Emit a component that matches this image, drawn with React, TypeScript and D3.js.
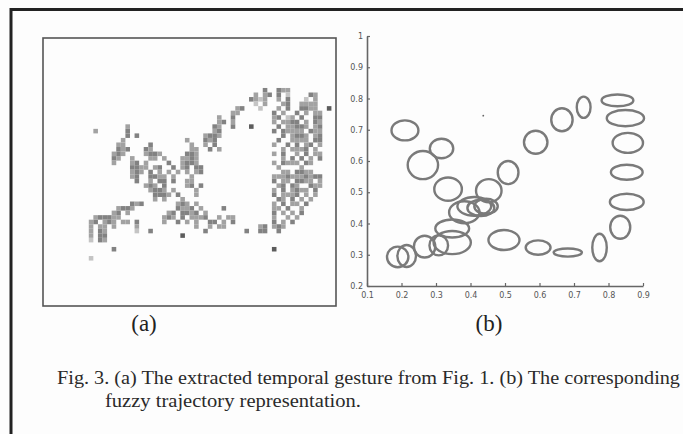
import { useEffect, useRef } from "react";
import * as d3 from "d3";

// panel (a): extracted gesture, as runs of cells [row, startCol, pattern]
// pattern chars: "." empty, 1..4 gray level
const gridCols = 64;
const gridRows = 59;
const gestureRuns: [number, number, string][] = [
  [11, 48, "3"], [11, 51, "322"],
  [12, 46, "2.23"], [12, 51, "3.1"], [12, 58, "32"],
  [13, 45, "3212"], [13, 51, "2.3"], [13, 57, "1.2"],
  [14, 46, "1.2"], [14, 52, "23"], [14, 56, "2222"],
  [15, 42, "23"], [15, 47, "1"], [15, 51, "2.3"], [15, 56, "3322"], [15, 62, "4"],
  [16, 41, "22"], [16, 50, "3.2..3.2.22"],
  [17, 38, "2"], [17, 41, "3"], [17, 50, "23.12.3..33"],
  [18, 38, "23"], [18, 41, "2"], [18, 50, "2.2233.2.32"],
  [19, 18, "2"], [19, 37, "32"], [19, 41, "3"], [19, 45, "4"], [19, 50, ".3.22332.23"],
  [20, 11, "2"], [20, 18, "3"], [20, 37, "23"], [20, 50, "3.32222.322"],
  [21, 18, "3.3"], [21, 35, "2332"], [21, 50, "..3.2332.23"],
  [22, 17, "2"], [22, 31, "2"], [22, 35, "323"], [22, 50, ".3..2222.33"],
  [23, 16, "22"], [23, 23, "3"], [23, 32, "2"], [23, 35, "2.3"], [23, 50, "2..3.3.23.2"],
  [24, 16, "323"], [24, 22, "32"], [24, 32, "22"], [24, 36, "3.2"], [24, 50, "..2.2223.2."],
  [25, 15, "232"], [25, 22, "233"], [25, 25, "2"], [25, 31, "332"], [25, 50, "2.3..2.3.22"],
  [26, 15, "32"], [26, 19, "2"], [26, 23, "22"], [26, 26, "2"], [26, 30, "2232"], [26, 50, "..2.3.3.2.3"],
  [27, 15, "2"], [27, 19, "23"], [27, 22, "2"], [27, 27, "3"], [27, 30, "2332"], [27, 50, "2.3222.32.."],
  [28, 19, "3322"], [28, 24, "23"], [28, 28, "3"], [28, 30, "23.33"], [28, 51, "2....2"],
  [29, 19, "232"], [29, 23, "3.2"], [29, 27, "2.2"], [29, 31, "2.23"], [29, 50, "..22.3322.."],
  [30, 19, "23"], [30, 23, "3322"], [30, 28, "2"], [30, 32, "2"], [30, 50, "22232223233"],
  [31, 20, "3"], [31, 23, "2.33"], [31, 28, "3"], [31, 31, "22"], [31, 50, "3.22.3322.2"],
  [32, 22, "232"], [32, 26, "3"], [32, 31, "23.3"], [32, 50, ".23.32..322"],
  [33, 23, "2332"], [33, 28, "2"], [33, 33, "2"], [33, 50, "2.3.2322.3."],
  [34, 24, "3332"], [34, 29, "3"], [34, 33, "2"], [34, 50, "3.2223.2.2."],
  [35, 24, "2"], [35, 26, "2"], [35, 30, "2"], [35, 50, ".32.3.2.2.."],
  [36, 19, "323"], [36, 29, "232"], [36, 33, "2"], [36, 50, "2.3.22.3"],
  [37, 16, "2332"], [37, 29, "3223.2"], [37, 39, "3"], [37, 50, "22.3..2"],
  [38, 15, "23.2"], [38, 27, "23.3323.2"], [38, 50, "3.2.2.3"],
  [39, 11, "23332"], [39, 16, "2"], [39, 26, "232.3.2223..2.22"], [39, 50, "2..2.2"],
  [40, 10, "23.232"], [40, 17, "22.3"], [40, 26, "2..3.2.2..33.2.3"], [40, 50, "3.2.3"],
  [41, 10, "2.22.2"], [41, 20, "2"], [41, 33, "2"], [41, 36, "2.22"], [41, 47, "23"], [41, 50, "232"],
  [42, 10, "2.32"], [42, 20, "1"], [42, 23, "3"], [42, 35, "3"], [42, 44, "3"], [42, 47, "33"], [42, 51, "3"],
  [43, 10, "2.33"], [43, 30, "4"],
  [44, 10, "1.32"],
  [46, 15, "3"], [46, 50, "4"],
  [48, 10, "1"],
];
const grayLevels = ["#ffffff", "#c4c4c4", "#a2a2a2", "#828282", "#5c5c5c"];

// panel (b): fuzzy trajectory ellipses [cx, cy, rx, ry] in data units
const ellipseCx = [0.21, 0.316, 0.262, 0.335, 0.453, 0.509, 0.589, 0.665, 0.728, 0.826, 0.849, 0.856, 0.853, 0.853, 0.834, 0.774, 0.682, 0.596, 0.497, 0.347, 0.347, 0.267, 0.308, 0.189, 0.215, 0.382, 0.411, 0.43, 0.445];
const ellipseCy = [0.698, 0.64, 0.587, 0.51, 0.505, 0.563, 0.66, 0.732, 0.772, 0.794, 0.737, 0.658, 0.564, 0.469, 0.388, 0.323, 0.307, 0.323, 0.347, 0.339, 0.384, 0.326, 0.33, 0.293, 0.296, 0.436, 0.455, 0.45, 0.455];
const ellipseRx = [0.039, 0.034, 0.044, 0.04, 0.037, 0.03, 0.034, 0.031, 0.02, 0.046, 0.054, 0.044, 0.046, 0.049, 0.029, 0.021, 0.041, 0.036, 0.045, 0.054, 0.049, 0.031, 0.027, 0.031, 0.027, 0.044, 0.049, 0.039, 0.034];
const ellipseRy = [0.032, 0.031, 0.045, 0.037, 0.037, 0.037, 0.037, 0.037, 0.034, 0.019, 0.026, 0.032, 0.024, 0.026, 0.037, 0.044, 0.013, 0.023, 0.032, 0.037, 0.029, 0.035, 0.032, 0.033, 0.035, 0.035, 0.03, 0.026, 0.024];
const strayDot = [0.437, 0.745];

const xTicks = [0.1, 0.2, 0.3, 0.4, 0.5, 0.6, 0.7, 0.8, 0.9];
const yTicks = [0.2, 0.3, 0.4, 0.5, 0.6, 0.7, 0.8, 0.9, 1];

const captionLine1 = "Fig. 3. (a) The extracted temporal gesture from Fig. 1. (b) The corresponding";
const captionLine2 = "fuzzy trajectory representation.";

function App() {
  const ref = useRef<SVGSVGElement>(null);

  useEffect(() => {
    draw();
    // eslint-disable-next-line
  }, []);

  function draw() {
    const svg = d3.select(ref.current);
    svg.selectAll("*").remove();

    // outer frame of the scanned page
    svg.append("rect")
      .attr("x", 11).attr("y", 9.5)
      .attr("width", 720).attr("height", 480)
      .attr("fill", "#fdfdfd")
      .attr("stroke", "#222").attr("stroke-width", 3);

    // ---- panel (a)
    const gx = d3.scaleLinear().domain([0, gridCols]).range([43, 336]);
    const gy = d3.scaleLinear().domain([0, gridRows]).range([38, 306]);
    const cells: { r: number; c: number; v: number }[] = [];
    gestureRuns.forEach(([r, c0, p]) => {
      p.split("").forEach((ch, i) => {
        if (ch !== ".") cells.push({ r, c: c0 + i, v: +ch });
      });
    });
    const cw = gx(1) - gx(0);
    const ch = gy(1) - gy(0);
    const ga = svg.append("g").style("filter", "blur(0.4px)");
    ga.selectAll("rect")
      .data(cells)
      .enter()
      .append("rect")
      .attr("x", d => gx(d.c))
      .attr("y", d => gy(d.r))
      .attr("width", cw)
      .attr("height", ch)
      .attr("fill", d => grayLevels[d.v]);

    svg.append("rect")
      .attr("x", 43).attr("y", 38)
      .attr("width", 293).attr("height", 268)
      .attr("fill", "none")
      .attr("stroke", "#555").attr("stroke-width", 1.6);

    // ---- panel (b)
    const x = d3.scaleLinear().domain([0.1, 0.9]).range([367, 643]);
    const y = d3.scaleLinear().domain([0.2, 1]).range([286, 36]);

    const xAxis = d3.axisBottom(x)
      .tickValues(xTicks)
      .tickSize(-3)
      .tickSizeOuter(0)
      .tickPadding(6)
      .tickFormat(d => (+d).toFixed(1));
    const yAxis = d3.axisLeft(y)
      .tickValues(yTicks)
      .tickSize(-3)
      .tickSizeOuter(0)
      .tickPadding(4)
      .tickFormat(d => (+d === 1 ? "1" : (+d).toFixed(1)));

    const gxA = svg.append("g").attr("transform", `translate(0,${y(0.2)})`).call(xAxis);
    const gyA = svg.append("g").attr("transform", `translate(${x(0.1)},0)`).call(yAxis);
    [gxA, gyA].forEach(g => {
      g.select(".domain").attr("stroke", "#666").attr("stroke-width", 1.6);
      g.selectAll(".tick line").attr("stroke", "#666").attr("stroke-width", 1.2);
      g.selectAll(".tick text")
        .attr("fill", "#555")
        .style("font-family", "'DejaVu Sans', sans-serif")
        .style("font-size", "8px");
    });

    const idx = d3.range(ellipseCx.length);
    svg.append("g")
      .selectAll("ellipse")
      .data(idx)
      .enter()
      .append("ellipse")
      .attr("cx", i => x(ellipseCx[i]))
      .attr("cy", i => y(ellipseCy[i]))
      .attr("rx", i => x(ellipseCx[i] + ellipseRx[i]) - x(ellipseCx[i]))
      .attr("ry", i => y(ellipseCy[i]) - y(ellipseCy[i] + ellipseRy[i]))
      .attr("fill", "none")
      .attr("stroke", "#7a7a7a")
      .attr("stroke-width", 2.4);

    svg.append("circle")
      .attr("cx", x(strayDot[0]))
      .attr("cy", y(strayDot[1]))
      .attr("r", 0.9)
      .attr("fill", "#666");

    // ---- labels and caption
    const serif = "'Liberation Serif', 'Times New Roman', serif";
    svg.append("text")
      .attr("x", 144).attr("y", 331)
      .attr("text-anchor", "middle")
      .style("font-family", serif).style("font-size", "23px")
      .attr("fill", "#222")
      .text("(a)");
    svg.append("text")
      .attr("x", 489).attr("y", 331)
      .attr("text-anchor", "middle")
      .style("font-family", serif).style("font-size", "23px")
      .attr("fill", "#222")
      .text("(b)");

    svg.append("text")
      .attr("x", 57).attr("y", 384)
      .attr("textLength", 623)
      .attr("lengthAdjust", "spacingAndGlyphs")
      .style("font-family", serif).style("font-size", "18px")
      .attr("fill", "#2a2a2a")
      .text(captionLine1);
    svg.append("text")
      .attr("x", 105).attr("y", 407)
      .attr("textLength", 256)
      .attr("lengthAdjust", "spacingAndGlyphs")
      .style("font-family", serif).style("font-size", "18px")
      .attr("fill", "#2a2a2a")
      .text(captionLine2);
  }

  return (
    <div style={{ position: "absolute", left: 0, top: 0 }}>
      <svg ref={ref} width={683} height={434} style={{ display: "block", background: "#fdfdfd" }}>
      </svg>
    </div>
  );
}

export default App;
